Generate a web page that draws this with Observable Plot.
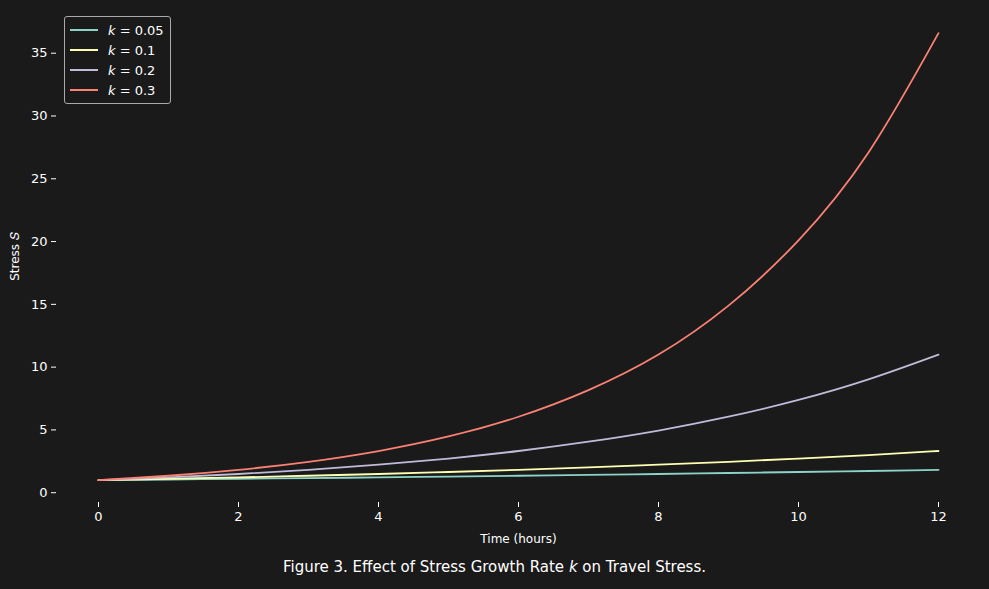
<!DOCTYPE html>
<html><head>
<script src="https://cdn.jsdelivr.net/npm/d3@7"></script>
<script src="https://cdn.jsdelivr.net/npm/@observablehq/plot@0.6"></script>
<style>
body{margin:0;background:#1a1a1a;font-family:"DejaVu Sans",sans-serif;color:#fff}
#wrap{position:relative;width:989px}
#legend{position:absolute;left:64px;top:16px;width:105px;border:1px solid #aaa;border-radius:3px;background:#1a1a1a;padding:3px 0;font-size:13px}
#legend div{display:flex;align-items:center;height:20px;padding-left:5px}
#legend span.l{display:inline-block;width:28px;height:2px;margin-right:10px}
#cap{text-align:center;font-size:15px;margin-top:8px}
</style>
</head><body>
<div id="wrap"><div id="chart"></div><div id="legend"></div></div>
<div id="cap">Figure 3. Effect of Stress Growth Rate <i>k</i> on Travel Stress.</div>
<script>
const hours = [0,1,2,3,4,5,6,7,8,9,10,11,12]
const kLabels = ['0.05','0.1','0.2','0.3']
const colors = ['#8dd3c7','#feffb3','#bfbbd9','#fa8174']
const s005 = [1,1.05,1.11,1.16,1.22,1.28,1.35,1.42,1.49,1.57,1.65,1.73,1.82]
const s01 = [1,1.11,1.22,1.35,1.49,1.65,1.82,2.01,2.23,2.46,2.72,3.0,3.32]
const s02 = [1,1.22,1.49,1.82,2.23,2.72,3.32,4.06,4.95,6.05,7.39,9.03,11.0]
const s03 = [1,1.35,1.82,2.46,3.32,4.48,6.05,8.17,11.0,14.9,20.1,27.1,36.6]
const series = [s005,s01,s02,s03]
const xTicks = [0,2,4,6,8,10,12]
const yTicks = [0,5,10,15,20,25,30,35]

const data = series.flatMap((s,i)=>s.map((v,j)=>({t:hours[j],s:v,k:kLabels[i]})))

const chart = Plot.plot({
  width:989, height:550,
  marginLeft:56, marginRight:9, marginTop:10, marginBottom:48,
  style:{background:'#1a1a1a',color:'#fff',fontFamily:'DejaVu Sans',fontSize:'13px'},
  x:{domain:[-0.6,12.6]},
  y:{domain:[-0.78,38.4]},
  color:{domain:kLabels,range:colors},
  marks:[
    Plot.axisX({ticks:xTicks,tickSize:5,tickPadding:4,label:'Time (hours)',labelAnchor:'center',labelArrow:'none',labelOffset:40,fontSize:12}),
    Plot.axisY({ticks:yTicks,tickSize:5,tickPadding:4,label:'Stress 𝑆',labelAnchor:'center',labelArrow:'none',labelOffset:46,fontSize:12}),
    Plot.line(data,{x:'t',y:'s',z:'k',stroke:'k',strokeWidth:1.8,curve:'natural'})
  ]
})
d3.select('#chart').append(()=>chart)
d3.select(chart).selectAll('[aria-label="x-axis tick label"] text,[aria-label="y-axis tick label"] text').style('font-size','13px')

const lg = d3.select('#legend')
kLabels.forEach((k,i)=>{
  const row = lg.append('div')
  row.append('span').attr('class','l').style('background',colors[i])
  row.append('span').html('<i>k</i> = '+k)
})
</script>
</body></html>
